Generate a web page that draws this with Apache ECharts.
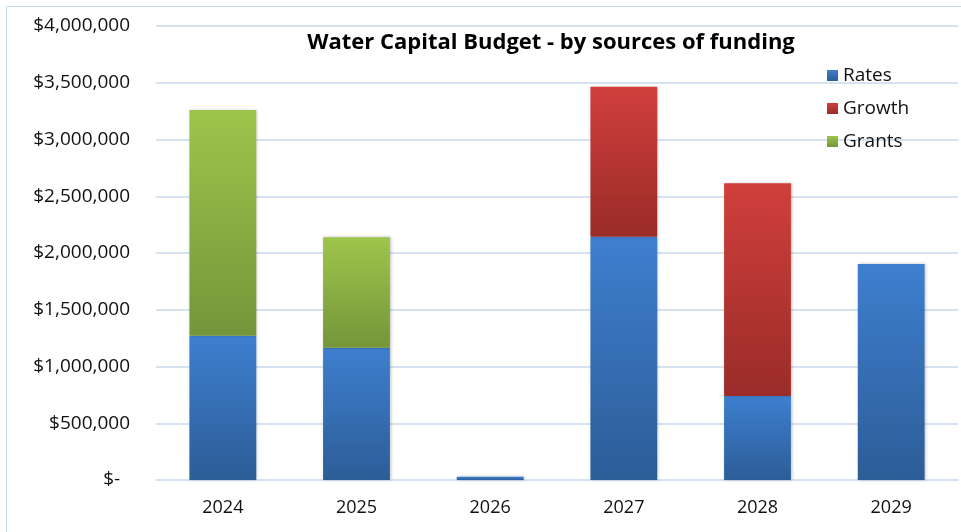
<!DOCTYPE html>
<html><head><meta charset="utf-8">
<script src="https://cdn.jsdelivr.net/npm/echarts@6/dist/echarts.min.js"></script>
<style>html,body{margin:0;padding:0;background:#fff}#c{width:961px;height:532px}</style>
</head><body><div id="c"></div>
<script>
const categories = ['2024','2025','2026','2027','2028','2029'];
const rates  = [1271000, 1166000, 28000, 2144000, 740000, 1903000];
const growth = [0, 0, 0, 1321000, 1874000, 0];
const grants = [1990000, 972000, 0, 0, 0, 0];
const seriesNames = ['Rates','Growth','Grants'];
const title = 'Water Capital Budget - by sources of funding';

const FONT = '"Open Sans", "Liberation Sans", sans-serif';
function grad(top, bottom){
  return new echarts.graphic.LinearGradient(0,0,0,1,[{offset:0,color:top},{offset:1,color:bottom}]);
}
const styles = [
  {top:'#3e7fcf', bottom:'#2c5d97'},
  {top:'#d03f3c', bottom:'#9a2c29'},
  {top:'#9ec54b', bottom:'#75953a'}
];
const dataSets = [rates, growth, grants];
const chart = echarts.init(document.getElementById('c'), null, {renderer:'canvas'});
chart.setOption({
  animation:false,
  backgroundColor:'#fff',
  title:{text:title,left:546,top:27,textAlign:'center',
    textStyle:{fontFamily:FONT,fontSize:22,fontWeight:'bold',color:'#000'}},
  legend:{orient:'vertical',left:822,top:61,itemGap:14,itemWidth:11,itemHeight:11,
    icon:'rect',data:seriesNames,
    textStyle:{fontFamily:FONT,fontSize:19,color:'#111'}},
  grid:{left:156,right:3,top:26,bottom:52},
  xAxis:{type:'category',data:categories,
    axisLine:{show:true,lineStyle:{color:'#d6e2f1',width:2}},
    axisTick:{show:false},
    axisLabel:{fontFamily:FONT,fontSize:18,color:'#111',margin:19}},
  yAxis:{type:'value',min:0,max:4000000,interval:500000,
    axisLine:{show:false},axisTick:{show:false},
    splitLine:{lineStyle:{color:'#d6e2f1',width:2}},
    axisLabel:{fontFamily:FONT,fontSize:19,color:'#111',margin:26,
      formatter:v=> v===0 ? '$-  ' : '$'+v.toLocaleString('en-US')}},
  graphic:[{type:'rect',shape:{x:6.5,y:6.5,width:960,height:530},
    style:{fill:'none',stroke:'#c9daf0',lineWidth:1},silent:true,z:-1}],
  series: seriesNames.map((n,i)=>({
    name:n,type:'bar',stack:'total',barWidth:'50%',
    data:dataSets[i],
    itemStyle:{color:grad(styles[i].top,styles[i].bottom),
      shadowColor:'rgba(0,0,0,0.25)',shadowBlur:3,shadowOffsetX:1,shadowOffsetY:0}
  }))
});
</script></body></html>
